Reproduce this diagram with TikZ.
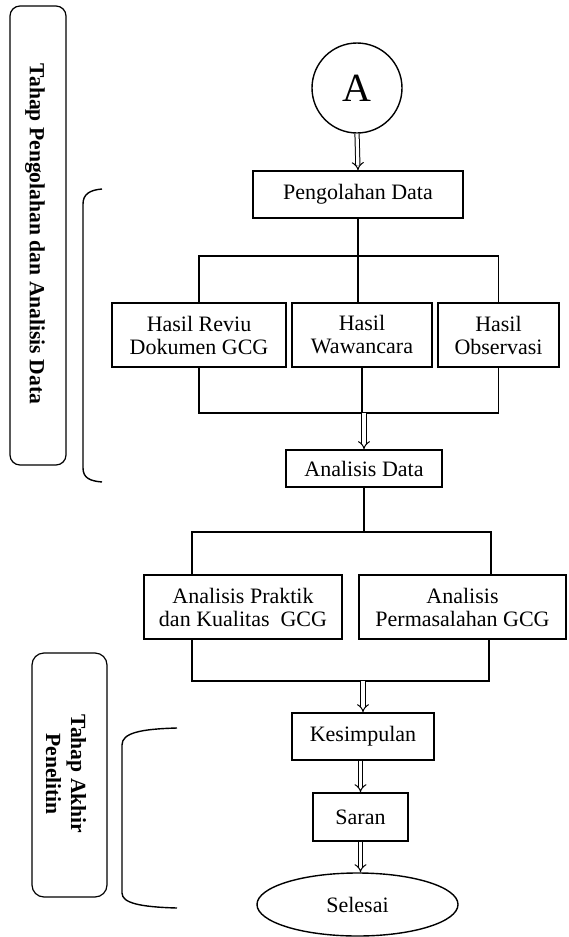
\documentclass[tikz,border=0pt]{standalone}
\usepackage{fontspec}
\setmainfont{Liberation Serif}
\usetikzlibrary{arrows.meta,shapes.geometric}

\begin{document}
\begin{tikzpicture}[x=0.5pt,y=-0.5pt,line width=0.7pt,
  kotak/.style={draw,rectangle,inner sep=0pt,align=center,font=\fontsize{11}{11.5}\selectfont},
  tahap/.style={draw,rounded corners=5pt,line width=0.6pt},
  judul/.style={rotate=-90,align=center,font=\fontsize{10.8}{12.5}\selectfont\bfseries},
  dbl/.style={double,double distance=1.6pt,line width=0.5pt,-{Implies}}]
\useasboundingbox (0,0) rectangle (568,937);

%Tahap pengolahan dan analisis data
\draw[tahap] (10,6) rectangle (66,465);
\node[judul] (lbl1) at (35,234) {Tahap Pengolahan dan Analisis Data};
\draw (102,189) .. controls (90,190) and (83,194) .. (83,204) -- (83,468) .. controls (83,478) and (90,481) .. (102,482);

%Tahap akhir penelitian
\draw[tahap,rounded corners=6pt] (32,653) rectangle (107,897);
\node[judul] (lbl2) at (66,774) {Tahap Akhir\\Penelitin};
\draw (177,728) .. controls (140,729) and (122,733) .. (122,745) -- (122,893) .. controls (122,903) and (140,907) .. (177,908);

%Kotak-kotak
\node[draw,circle,minimum size=45pt,inner sep=0pt,font=\fontsize{20}{22}\selectfont] (A) at (357,88) {A};
\node[kotak,minimum width=105pt,minimum height=23.5pt] (olah) at (358,194.5) {Pengolahan Data};
\node[kotak,minimum width=87pt,minimum height=32pt] (reviu) at (199,335) {Hasil Reviu\\Dokumen GCG};
\node[kotak,minimum width=70pt,minimum height=32pt] (wawan) at (362,335) {Hasil\\Wawancara};
\node[kotak,minimum width=60.5pt,minimum height=32pt] (obs) at (498.5,335) {Hasil\\Observasi};
\node[kotak,minimum width=78pt,minimum height=18.5pt] (analisis) at (364,468.5) {Analisis Data};
\node[kotak,minimum width=99pt,minimum height=32pt] (praktik) at (243,607) {Analisis Praktik\\dan Kualitas~ GCG};
\node[kotak,minimum width=103.5pt,minimum height=32pt] (masalah) at (462.5,607) {Analisis\\Permasalahan GCG};
\node[kotak,minimum width=71pt,minimum height=23.5pt] (simpul) at (363,736.5) {Kesimpulan};
\node[kotak,minimum width=47.5pt,minimum height=24pt] (saran) at (360.5,817) {Saran};
\node[draw,ellipse,minimum width=100.5pt,minimum height=31.5pt,inner sep=0pt,font=\fontsize{11}{11.5}\selectfont] (selesai) at (357.5,904.5) {Selesai};

%Garis penghubung
\coordinate (b1) at (200,256);
\coordinate (b2) at (200,413);
\coordinate (k1) at (192,532);
\coordinate (k2) at (491,532);
\coordinate (k3) at (192,681);
\coordinate (k4) at (489,681);

\draw[dbl] (A.south) -- (olah.north);
\draw (reviu.north) |- (b1) -| (obs.north);
\draw (olah.south) -- (olah.south |- wawan.north);
\draw (reviu.south) |- (b2) -| (obs.south);
\draw (wawan.south) -- (wawan.south |- b2);
\draw[dbl] (analisis.north |- b2) -- (analisis.north);
\draw (k1 |- praktik.north) -- (k1) -- (k2) -- (k2 |- masalah.north);
\draw (analisis.south) -- (analisis.south |- k1);
\draw (k3 |- praktik.south) -- (k3) -- (k4) -- (k4 |- masalah.south);
\draw[dbl] (simpul.north |- k3) -- (simpul.north);
\draw[dbl] (simpul.south -| saran.north) -- (saran.north);
\draw[dbl] (saran.south) -- (saran.south |- selesai.north);

\end{tikzpicture}
\end{document}
